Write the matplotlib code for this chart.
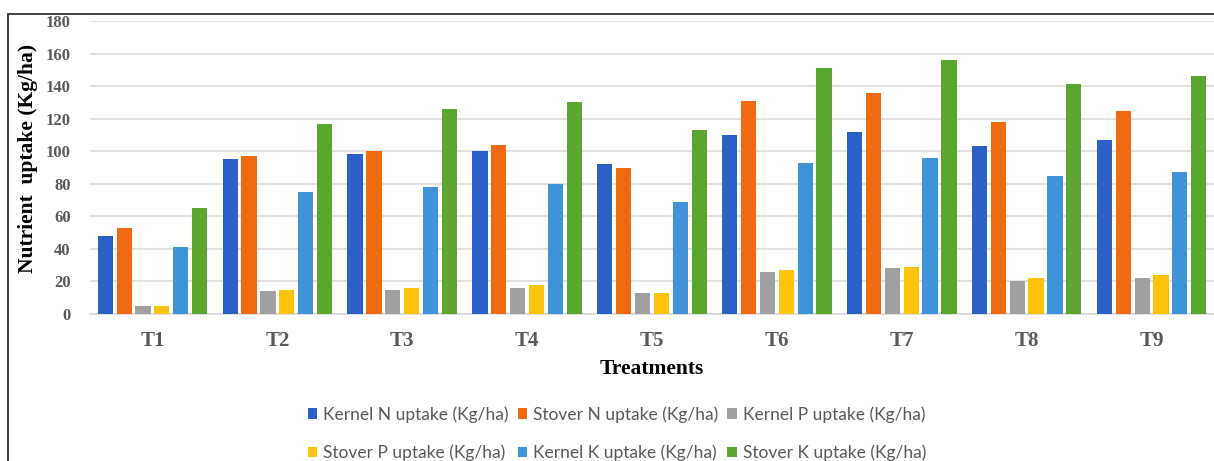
import numpy as np
import matplotlib.pyplot as plt
from matplotlib.patches import Rectangle

treatments = ['T1', 'T2', 'T3', 'T4', 'T5', 'T6', 'T7', 'T8', 'T9']
kernel_n = [48, 95, 98, 100, 92, 110, 112, 103, 107]
stover_n = [53, 97, 100, 104, 90, 131, 136, 118, 125]
kernel_p = [5, 14, 15, 16, 13, 26, 28, 20, 22]
stover_p = [5, 15, 16, 18, 13, 27, 29, 22, 24]
kernel_k = [41, 75, 78, 80, 69, 93, 96, 85, 87]
stover_k = [65, 117, 126, 130, 113, 151, 156, 141, 146]

series_names = ['Kernel N uptake (Kg/ha)', 'Stover N uptake (Kg/ha)', 'Kernel P uptake (Kg/ha)',
                'Stover P uptake (Kg/ha)', 'Kernel K uptake (Kg/ha)', 'Stover K uptake (Kg/ha)']
series_vals = [kernel_n, stover_n, kernel_p, stover_p, kernel_k, stover_k]
colors = ['#2d60c6', '#f06a12', '#a0a0a0', '#fcc20c', '#3f93d8', '#5aa62e']

fig = plt.figure(figsize=(12.14, 4.61), dpi=100)
ax = fig.add_axes([90 / 1214, 147 / 461, 1124 / 1214, 293 / 461])

x = np.arange(len(treatments))
pitch = 0.151
width = 0.122
handles = []
for i, (name, vals, c) in enumerate(zip(series_names, series_vals, colors)):
    h = ax.bar(x + (i - 2.5) * pitch, vals, width, color=c, label=name, zorder=3)
    handles.append(h)

ax.set_xlim(-0.5, 8.5)
ax.set_ylim(0, 180)
ax.set_yticks(range(0, 181, 20))
ax.set_xticks(x)
ax.set_xticklabels(treatments)
ax.grid(axis='y', color='#dcdcdc', linewidth=1.2, zorder=0)
for s in ['top', 'right', 'left']:
    ax.spines[s].set_visible(False)
ax.spines['bottom'].set_color('#dcdcdc')
ax.spines['bottom'].set_linewidth(1.2)
ax.tick_params(length=0)
ax.tick_params(axis='x', pad=12)
ax.tick_params(axis='y', pad=14)
for lab in ax.get_xticklabels():
    lab.set_fontfamily('Liberation Serif')
    lab.set_fontweight('bold')
    lab.set_fontsize(15)
    lab.set_color('#595959')
for lab in ax.get_yticklabels():
    lab.set_fontfamily('Liberation Serif')
    lab.set_fontweight('bold')
    lab.set_fontsize(12)
    lab.set_color('#595959')

ax.set_xlabel('Treatments', fontfamily='Liberation Serif', fontweight='bold',
              fontsize=15.5, labelpad=6)
ax.set_ylabel('Nutrient  uptake (Kg/ha)', fontfamily='Liberation Serif', fontweight='bold',
              fontsize=15.5)
ax.yaxis.set_label_coords(-0.046, 0.53)

# legend filled row by row like the original
order = [0, 3, 1, 4, 2, 5]
leg = fig.legend([handles[i] for i in order], [series_names[i] for i in order],
                 loc='upper center', bbox_to_anchor=(617 / 1214, 67 / 461), ncol=3,
                 frameon=False, prop={'family': 'Lato', 'size': 12.5},
                 handlelength=0.55, handleheight=0.55, handletextpad=0.35,
                 columnspacing=0.5, labelspacing=1.25, borderpad=0.2)
for t in leg.get_texts():
    t.set_color('#595959')

# outer frame of the original figure
fig.patches.append(Rectangle((8 / 1214, -0.1), 1.2, 1 - 14 / 461 + 0.1,
                             transform=fig.transFigure, fill=False,
                             edgecolor='#333333', linewidth=1.3))

fig.savefig('out.png', dpi=100)
